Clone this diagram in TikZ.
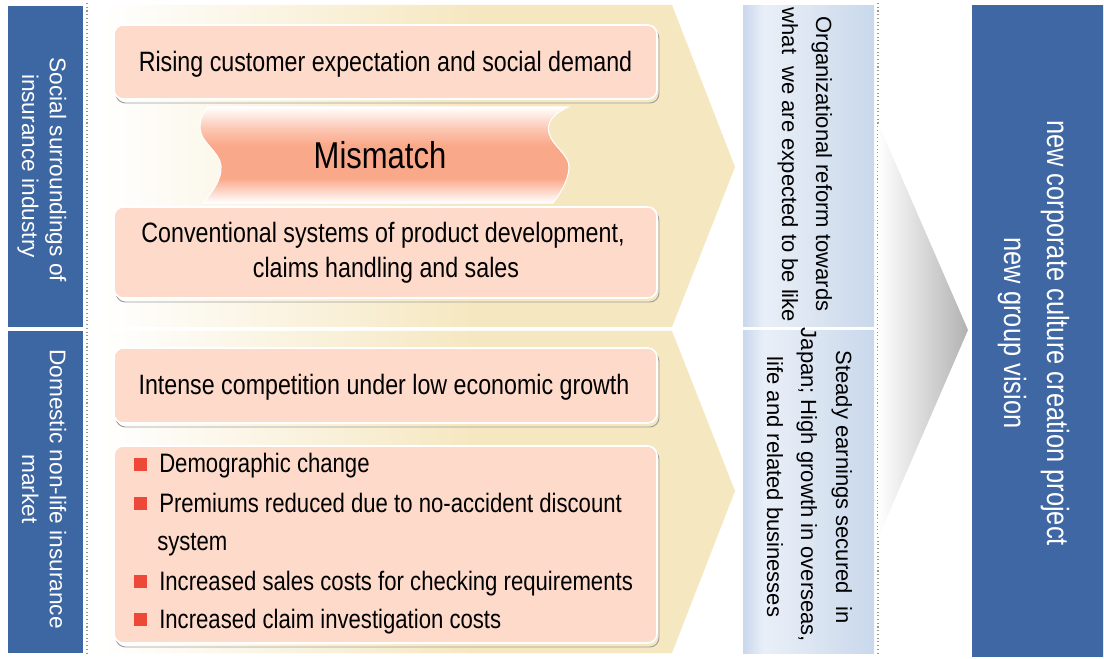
\documentclass[tikz,border=0pt]{standalone}
\usepackage{fontspec}
\setmainfont{Liberation Sans}
\newfontfamily\narrowfont{Liberation Sans}[FakeStretch=0.83]
\definecolor{beige}{RGB}{245,231,192}
\definecolor{pinkfill}{RGB}{253,218,202}
\definecolor{barblue}{RGB}{61,103,163}
\definecolor{bigdark}{RGB}{62,103,163}
\definecolor{biglight}{RGB}{108,141,191}
\definecolor{paleA}{RGB}{201,216,236}
\definecolor{paleB}{RGB}{233,239,248}
\definecolor{paleC}{RGB}{221,230,242}
\definecolor{salmon}{RGB}{250,168,138}
\definecolor{salmonL}{RGB}{252,200,180}
\definecolor{bulletred}{RGB}{238,72,56}
\definecolor{shadegray}{RGB}{178,178,178}
\definecolor{dotgray}{RGB}{150,150,150}
\pgfdeclarehorizontalshading{chevsh}{100bp}{color(0bp)=(white); color(26bp)=(white); color(55bp)=(beige); color(100bp)=(beige)}
\pgfdeclarehorizontalshading{panelsh}{100bp}{color(0bp)=(paleA); color(25bp)=(paleA); color(33bp)=(paleB); color(50bp)=(paleC); color(75bp)=(paleA); color(100bp)=(paleA)}
\pgfdeclarehorizontalshading{graysh}{100bp}{color(0bp)=(white); color(25bp)=(white); color(75bp)=(shadegray); color(100bp)=(shadegray)}
\pgfdeclareverticalshading{missh}{100bp}{color(0bp)=(white); color(25bp)=(white); color(38bp)=(salmon); color(55bp)=(salmon); color(64bp)=(salmonL); color(75bp)=(white); color(100bp)=(white)}
\tikzset{
  pinkbox/.style={fill=pinkfill, draw=white, line width=1.2pt, rounded corners=7pt},
  shadowbox/.style={draw=gray!75, line width=0.7pt, rounded corners=7pt},
  pinktext/.style={font=\narrowfont\fontsize{21}{25}\selectfont, inner sep=0pt, anchor=base},
  bullettext/.style={font=\narrowfont\fontsize{20}{24}\selectfont, inner sep=0pt, anchor=base west},
  bartext/.style={font=\fontsize{17}{20}\selectfont, text=white, rotate=-90, inner sep=0pt, anchor=base},
  paneltext/.style={font=\fontsize{16.5}{20}\selectfont, rotate=-90, inner sep=0pt, anchor=base},
  bigtext/.style={font=\narrowfont\fontsize{23}{27}\selectfont, text=white, rotate=-90, inner sep=0pt, anchor=base},
  misstext/.style={font=\narrowfont\fontsize{28}{32}\selectfont, inner sep=0pt, anchor=base},
  bulletsq/.style={fill=bulletred},
  sepline/.style={draw=dotgray, dotted, line width=0.8pt}
}
\begin{document}
\begin{tikzpicture}[x=0.75pt,y=-0.75pt]
\useasboundingbox (0,0) rectangle (1104,659);
\fill[white] (0,0) rectangle (1104,659);

% left bars
\fill[barblue] (8,6) rectangle (83,327);
\fill[barblue] (8,331) rectangle (83,653);
\node[bartext] (bar1a) at (50,170) {Social surroundings of};
\node[bartext] (bar1b) at (22,166) {insurance industry};
\node[bartext] (bar2a) at (50,489) {Domestic non-life insurance};
\node[bartext] (bar2b) at (22,489) {market};

% dotted separators
\draw[sepline] (87,3) -- (87,655);
\draw[sepline] (878,3) -- (878,655);

% chevrons
\shade[shading=chevsh] (88,5) -- (672,5) -- (735,167) -- (672,327) -- (88,327) -- cycle;
\shade[shading=chevsh] (88,331) -- (672,331) -- (735,491) -- (672,653) -- (88,653) -- cycle;

% pink boxes
\draw[shadowbox] (116,29) rectangle (659,103);
\draw[pinkbox] (114,25) rectangle (657,99);
\draw[shadowbox] (116,211) rectangle (659,302);
\draw[pinkbox] (114,207) rectangle (657,298);
\draw[shadowbox] (116,352) rectangle (659,427);
\draw[pinkbox] (114,348) rectangle (657,423);
\draw[shadowbox] (116,450) rectangle (659,647);
\draw[pinkbox] (114,446) rectangle (657,643);

% mismatch banner
\shade[shading=missh, draw=white, line width=0.8pt]
  (208,107) -- (568,107)
  .. controls (553,114) and (546,123) .. (549,133)
  .. controls (552,146) and (570,155) .. (569,168)
  .. controls (568,182) and (559,195) .. (553,203)
  -- (203,203)
  .. controls (212,192) and (222,180) .. (221,166)
  .. controls (220,152) and (200,142) .. (200,128)
  .. controls (200,118) and (204,111) .. (208,107) -- cycle;
\node[misstext] (mis) at (380,169) {Mismatch};

% pink box texts
\node[pinktext] (t1) at (385.5,72) {Rising customer expectation and social demand};
\node[pinktext] (t2a) at (383,243) {Conventional systems of product development,};
\node[pinktext] (t2b) at (386,278) {claims handling and sales};
\node[pinktext] (t3) at (384,395) {Intense competition under low economic growth};

\fill[bulletsq] (134,458) rectangle (147,471);
\node[bullettext] (b1) at (159,473) {Demographic change};
\fill[bulletsq] (134,497) rectangle (147,510);
\node[bullettext] (b2) at (159,512) {Premiums reduced due to no-accident discount};
\node[bullettext] (b2b) at (157,550) {system};
\fill[bulletsq] (134,575) rectangle (147,588);
\node[bullettext] (b3) at (159,590) {Increased sales costs for checking requirements};
\fill[bulletsq] (134,613) rectangle (147,626);
\node[bullettext] (b4) at (159,628) {Increased claim investigation costs};

% light blue panels
\shade[shading=panelsh] (743,6) rectangle (874,327);
\shade[shading=panelsh] (743,331) rectangle (874,653);
\node[paneltext] (p1a) at (816,164) {Organizational reform towards};
\node[paneltext] (p1b) at (782,165) {what\ \ we are expected to be like};
\node[paneltext] (p2a) at (836,487) {Steady earnings secured\ \ in};
\node[paneltext] (p2b) at (801,485) {Japan; High growth in overseas,};
\node[paneltext] (p2c) at (767,487) {life and related businesses};

% gray triangle
\shade[shading=graysh] (878,123) -- (968,330) -- (878,538) -- cycle;

% big box
\shade[left color=bigdark, middle color=biglight, right color=bigdark] (972,6) rectangle (1103,656);
\node[bigtext] (v1) at (1047,333) {new corporate culture creation project};
\node[bigtext] (v2) at (1004,333) {new group vision};
\end{tikzpicture}
\end{document}
